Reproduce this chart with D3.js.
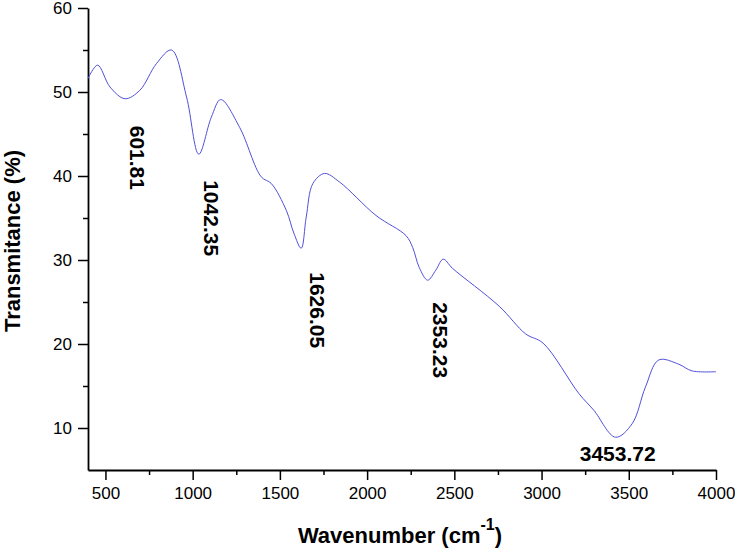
<!DOCTYPE html>
<html>
<head>
<meta charset="utf-8">
<script src="https://cdn.jsdelivr.net/npm/d3@7"></script>
<style>
  body { margin: 0; background: #fff; }
  text { font-family: "Liberation Sans", Arial, sans-serif; }
</style>
</head>
<body>
<div id="chart"></div>
<script>
// FTIR spectrum
const wavenumber = [400, 455, 526, 612, 697, 793, 879, 965, 1035, 1107, 1161, 1269, 1393, 1451, 1537, 1580, 1622, 1651, 1689, 1756,
  1841, 2051, 2223, 2261, 2299, 2347, 2394, 2436, 2490, 2757, 2909, 3009, 3214, 3300, 3424, 3519, 3596, 3672, 3786, 3862, 4000];
const transmittance = [51.6, 53.2, 50.6, 49.2, 50.2, 53.4, 55.0, 49.4, 42.6, 47.0, 49.1, 45.8, 39.9, 39.1, 35.9, 33.2, 31.4, 35.1, 39.1, 40.3,
  39.3, 35.3, 32.9, 31.5, 29.1, 27.6, 28.8, 30.1, 29.0, 24.5, 21.2, 20.1, 14.1, 12.1, 8.9, 10.5, 14.9, 18.1, 17.6, 16.8, 16.7];

const peakLabels = ["601.81", "1042.35", "1626.05", "2353.23", "3453.72"];
const peakWavenumbers = [601.81, 1042.35, 1626.05, 2353.23, 3453.72];
const peakValues = [49.2, 42.6, 31.4, 27.6, 8.9];

const xMajorTicks = [500, 1000, 1500, 2000, 2500, 3000, 3500, 4000];
const xMinorTicks = [750, 1250, 1750, 2250, 2750, 3250, 3750];
const yMajorTicks = [10, 20, 30, 40, 50, 60];
const yMinorTicks = [15, 25, 35, 45, 55];

const margin = { top: 8, right: 19, bottom: 84, left: 88 },
      width = 735 - margin.left - margin.right,
      height = 554 - margin.top - margin.bottom;

const svg = d3.select("#chart")
  .append("svg")
  .attr("width", 735)
  .attr("height", 554)
  .append("g")
  .attr("transform", `translate(${margin.left},${margin.top})`);

const x = d3.scaleLinear().domain([400, 4000]).range([0, width]);
const y = d3.scaleLinear().domain([5, 60]).range([height, 0]);

// minor ticks first, then major axes on top
svg.append("g")
  .attr("transform", `translate(0,${height})`)
  .call(d3.axisBottom(x).tickValues(xMinorTicks).tickSize(5).tickFormat(""))
  .call(g => g.select(".domain").remove())
  .selectAll("line").attr("stroke-width", 1.5);

svg.append("g")
  .call(d3.axisLeft(y).tickValues(yMinorTicks).tickSize(5).tickFormat(""))
  .call(g => g.select(".domain").remove())
  .selectAll("line").attr("stroke-width", 1.5);

const xAxis = svg.append("g")
  .attr("transform", `translate(0,${height})`)
  .call(d3.axisBottom(x).tickValues(xMajorTicks).tickSize(10).tickSizeOuter(0).tickPadding(7).tickFormat(d3.format("d")));

const yAxis = svg.append("g")
  .call(d3.axisLeft(y).tickValues(yMajorTicks).tickSize(10).tickSizeOuter(0).tickPadding(6).tickFormat(d3.format("d")));

[xAxis, yAxis].forEach(a => {
  a.select(".domain").attr("stroke-width", 1.8);
  a.selectAll("line").attr("stroke-width", 1.5);
  a.selectAll("text")
    .attr("fill", "#000")
    .style("font-size", "17px")
    .style("font-family", "'Liberation Sans', Arial, sans-serif");
});

// spectrum line
const data = wavenumber.map((w, i) => ({ w: w, t: transmittance[i] }));

svg.append("path")
  .datum(data)
  .attr("fill", "none")
  .attr("stroke", "#5050d8")
  .attr("stroke-width", 1)
  .attr("d", d3.line()
    .x(d => x(d.w))
    .y(d => y(d.t))
    .curve(d3.curveCatmullRom.alpha(0.5)));

// peak annotations
const offsets = [[14, 27], [11, 26], [16, 24], [12, 22]];
peakLabels.forEach((lab, i) => {
  const px = x(peakWavenumbers[i]), py = y(peakValues[i]);
  if (i < 4) {
    svg.append("text")
      .attr("transform", `translate(${px + offsets[i][0]},${py + offsets[i][1]}) rotate(90)`)
      .attr("dominant-baseline", "central")
      .style("font-size", "21px")
      .style("font-weight", "bold")
      .text(lab);
  } else {
    svg.append("text")
      .attr("x", px - 3)
      .attr("y", py + 24)
      .attr("text-anchor", "middle")
      .style("font-size", "21px")
      .style("font-weight", "bold")
      .text(lab);
  }
});

// axis titles
const xt = svg.append("text")
  .attr("x", 400 - margin.left)
  .attr("y", height + 73)
  .attr("text-anchor", "middle")
  .style("font-size", "22px")
  .style("font-weight", "bold");
xt.append("tspan").text("Wavenumber (cm");
xt.append("tspan").attr("dy", -13).style("font-size", "16px").text("-1");
xt.append("tspan").attr("dy", 13).text(")");

svg.append("text")
  .attr("transform", `translate(${20 - margin.left},${241 - margin.top}) rotate(-90)`)
  .attr("text-anchor", "middle")
  .style("font-size", "22px")
  .style("font-weight", "bold")
  .text("Transmitance (%)");
</script>
</body>
</html>
